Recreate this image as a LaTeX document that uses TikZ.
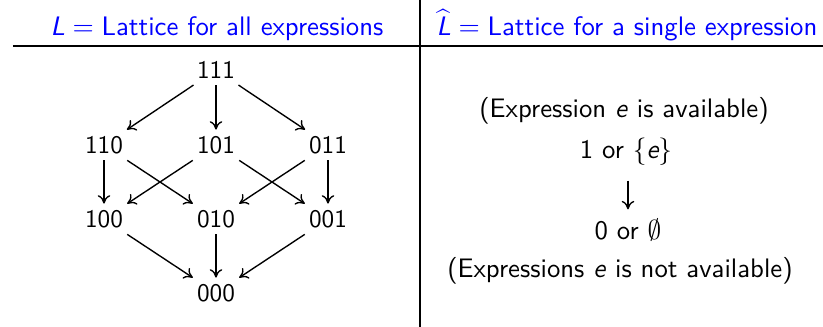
\documentclass[tikz,border=0pt]{standalone}
\usetikzlibrary{arrows.meta}
\begin{document}
\begin{tikzpicture}[x=0.4pt,y=-0.4pt,
  font=\fontsize{10.7}{12.5}\selectfont\sffamily,
  lat/.style={inner sep=2.4pt, font=\fontsize{10.1}{12}\selectfont\sffamily},
  edge/.style={-{To[length=3.4pt,width=5pt]}, line width=0.55pt},
  rulel/.style={line width=0.8pt},
  head/.style={text=blue, anchor=base, inner sep=0pt}]
\useasboundingbox (0,0) rectangle (823,327);
% rules
\coordinate (hL) at (13,45.7);
\coordinate (hR) at (823,45.7);
\coordinate (vT) at (420,0);
\coordinate (vB) at (420,327);
\draw[rulel] (hL) -- (hR);
\draw[rulel] (vT) -- (vB);
% headers
\node[head] (hl) at (217,35) {\(\textsl{L} = {}\)Lattice for all expressions};
\node[head] (hr) at (627,35) {\(\widehat{\textsl{L}} = {}\)Lattice for a single expression};
% lattice
\node[lat] (n111) at (216,70) {111};
\node[lat] (n110) at (104,145) {110};
\node[lat] (n101) at (216,145) {101};
\node[lat] (n011) at (328,145) {011};
\node[lat] (n100) at (104,219) {100};
\node[lat] (n010) at (216,219) {010};
\node[lat] (n001) at (328,219) {001};
\node[lat] (n000) at (216,293) {000};
\draw[edge] (n111) -- (n110);
\draw[edge] (n111) -- (n101);
\draw[edge] (n111) -- (n011);
\draw[edge] (n110) -- (n100);
\draw[edge] (n110) -- (n010);
\draw[edge] (n101) -- (n100);
\draw[edge] (n101) -- (n001);
\draw[edge] (n011) -- (n010);
\draw[edge] (n011) -- (n001);
\draw[edge] (n100) -- (n000);
\draw[edge] (n010) -- (n000);
\draw[edge] (n001) -- (n000);
% single expression lattice
\node (avail) at (624,111) {(Expression \textsl{e} is available)};
\node (one) at (626,152) {1 or \(\{\textsl{e}\}\)};
\node (zero) at (628,230) {0 or \(\emptyset\)};
\node (navail) at (620,271) {(Expressions \textsl{e} is not available)};
\draw[edge, shorten <=2.4pt, shorten >=0.3pt] ([xshift=0.8pt]one.south) -- ([xshift=0.8pt]one.south |- zero.north);
\end{tikzpicture}
\end{document}
